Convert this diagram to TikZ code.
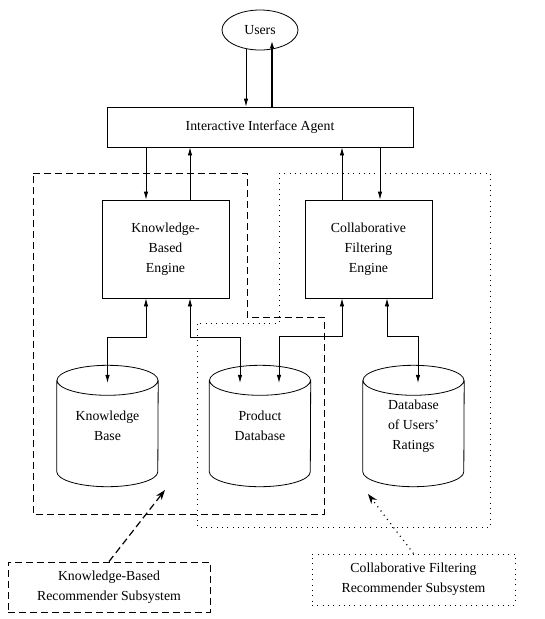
\documentclass[tikz,border=0pt]{standalone}
\usepackage{fontspec}
\setmainfont{Liberation Serif}
\usetikzlibrary{arrows.meta,shapes.geometric}

\begin{document}
\begin{tikzpicture}[
 x=1pt, y=1pt,
 every node/.style={font=\fontsize{13.8}{20}\selectfont, align=center},
 box/.style={draw, line width=0.8pt, inner sep=3pt},
 db/.style={minimum width=101pt, minimum height=91pt, inner sep=0pt},
 ar/.style={-{Latex[length=8pt,width=4.5pt]}, line width=0.8pt},
 dar/.style={{Latex[length=8pt,width=4.5pt]}-{Latex[length=8pt,width=4.5pt]}, line width=0.8pt},
 kbsys/.style={line width=0.9pt, dash pattern=on 7pt off 4pt},
 cfsys/.style={line width=1pt, dash pattern=on 1pt off 4.3pt},
]
 \useasboundingbox (0,0) rectangle (545,-619);

 \node[draw, line width=0.8pt, ellipse, minimum width=76pt, minimum height=40pt] (users) at (260,-30) {Users};
 \node[box, minimum width=306pt, minimum height=40pt] (agent) at (260,-127) {Interactive Interface Agent};
 \node[box, minimum width=127pt, minimum height=98pt] (kbe) at (165.5,-249) {Knowledge-\\Based\\Engine};
 \node[box, minimum width=127pt, minimum height=98pt] (cfe) at (368.5,-249) {Collaborative\\Filtering\\Engine};
 \node[db] (kb) at (107.5,-426) {Knowledge\\Base};
 \node[db] (pd) at (260,-426) {Product\\Database};
 \node[db] (ur) at (413.5,-426) {Database\\of Users'\\Ratings};
 \foreach \n in {kb,pd,ur}
 \draw[line width=0.8pt] (\n.north west) -- (\n.south west)
 arc[start angle=180, end angle=360, x radius=50.5pt, y radius=15pt] -- (\n.north east)
 (\n.north) ellipse[x radius=50.5pt, y radius=15pt];

 % subsystems
 \draw[kbsys] (33,-173) -- (247,-173) -- (247,-317) -- (324,-317) -- (324,-514) -- (33,-514) -- cycle;
 \draw[cfsys] (279,-173) -- (490,-173) -- (490,-527) -- (197,-527) -- (197,-323) -- (279,-323) -- cycle;

 \draw[ar] ([xshift=-14pt,yshift=1.5pt]users.south) -- ([xshift=-14pt]agent.north);
 \draw[ar, line width=1.5pt] ([xshift=12pt]agent.north) -- ([xshift=12pt,yshift=10pt]users.south);

 \draw[ar] ([xshift=-19.5pt]kbe.north |- agent.south) -- ([xshift=-19.5pt]kbe.north);
 \draw[ar] ([xshift=24.5pt]kbe.north) -- ([xshift=24.5pt]kbe.north |- agent.south);
 \draw[ar] ([xshift=-26.5pt]cfe.north) -- ([xshift=-26.5pt]cfe.north |- agent.south);
 \draw[ar] ([xshift=11.5pt]cfe.north |- agent.south) -- ([xshift=11.5pt]cfe.north);

 \draw[dar] ([xshift=-19.5pt]kbe.south) -- ++(0,-39) -| ([yshift=-2.5pt]kb.north);
 \draw[dar] ([xshift=24.5pt]kbe.south) -- ++(0,-39) -| ([xshift=-20pt,yshift=-2.5pt]pd.north);
 \draw[dar] ([xshift=-26.5pt]cfe.south) -- ++(0,-38) -| ([xshift=19pt,yshift=-2.5pt]pd.north);
 \draw[dar] ([xshift=18.5pt]cfe.south) -- ++(0,-38) -| ([xshift=4.5pt,yshift=-2.5pt]ur.north);

 % labels
 \node[box, kbsys, minimum width=202pt, minimum height=50pt] (kbl) at (109,-587) {Knowledge-Based\\Recommender Subsystem};
 \node[box, cfsys, minimum width=203pt, minimum height=51pt] (cfl) at (413.5,-579.5) {Collaborative Filtering\\Recommender Subsystem};
 \coordinate (kbtip) at (165,-490);
 \coordinate (cftip) at (368,-494);
 \draw[kbsys, line width=1.2pt, -{Stealth[length=10pt,width=7pt]}] (kbl.north) -- (kbtip);
 \draw[cfsys, line width=1.2pt, -{Stealth[length=10pt,width=7pt]}] (cfl.north) -- (cftip);
\end{tikzpicture}
\end{document}
